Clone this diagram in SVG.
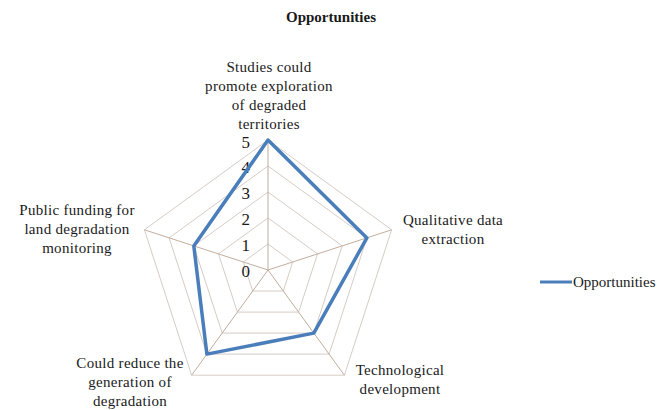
<svg xmlns="http://www.w3.org/2000/svg" width="664" height="410" viewBox="0 0 664 410">
<style>
.lbl{font-size:15px;text-anchor:middle;letter-spacing:0.3px}
.tick{font-size:17px;text-anchor:end}
.grid{fill:none;stroke:#d6ccc4;stroke-width:1}
.spoke{stroke:#c2ad9c;stroke-width:1}
.series{fill:none;stroke:#4a7ebb;stroke-width:3.5;stroke-linejoin:round}
</style>
<rect width="664" height="410" fill="#ffffff"/>
<g font-family="'Liberation Serif', 'Times New Roman', serif" fill="#1a1a1a">
<text x="331" y="22" font-size="15" font-weight="bold" text-anchor="middle">Opportunities</text>
</g>
<g id="grid">
<polygon class="grid" points="268,244 292.7,262 283.3,291 252.7,291 243.3,262"/>
<polygon class="grid" points="268,218 317.5,253.9 298.6,312.1 237.4,312.1 218.5,253.9"/>
<polygon class="grid" points="268,192 342.2,245.9 313.8,333.1 222.2,333.1 193.8,245.9"/>
<polygon class="grid" points="268,166 366.9,237.9 329.1,354.1 206.9,354.1 169.1,237.9"/>
<polygon class="grid" points="268,140 391.6,229.8 344.4,375.2 191.6,375.2 144.4,229.8"/>
</g>
<g id="connectors">
<line class="spoke" x1="268" y1="270" x2="268" y2="140"/>
<line class="spoke" x1="268" y1="270" x2="391.6" y2="229.8"/>
<line class="spoke" x1="268" y1="270" x2="344.4" y2="375.2"/>
<line class="spoke" x1="268" y1="270" x2="191.6" y2="375.2"/>
<line class="spoke" x1="268" y1="270" x2="144.4" y2="229.8"/>
</g>
<g id="ticks" font-family="'Liberation Serif', 'Times New Roman', serif" fill="#1a1a1a">
<text class="tick" x="250" y="277">0</text>
<text class="tick" x="250" y="251">1</text>
<text class="tick" x="250" y="225">2</text>
<text class="tick" x="250" y="199">3</text>
<text class="tick" x="250" y="173">4</text>
<text class="tick" x="250" y="148">5</text>
</g>
<g id="series-opportunities">
<polygon class="series" points="268,140 366.9,237.9 313.8,333.1 206.9,354.1 193.8,245.9"/>
</g>
<g id="node-studies" font-family="'Liberation Serif', 'Times New Roman', serif" fill="#1a1a1a">
<text class="lbl" x="269" y="72">Studies could</text>
<text class="lbl" x="269" y="91">promote exploration</text>
<text class="lbl" x="269" y="110">of degraded</text>
<text class="lbl" x="269" y="129">territories</text>
</g>
<g id="node-qualitative" font-family="'Liberation Serif', 'Times New Roman', serif" fill="#1a1a1a">
<text class="lbl" x="453" y="225">Qualitative data</text>
<text class="lbl" x="453" y="244">extraction</text>
</g>
<g id="node-technological" font-family="'Liberation Serif', 'Times New Roman', serif" fill="#1a1a1a">
<text class="lbl" x="400" y="375">Technological</text>
<text class="lbl" x="400" y="394">development</text>
</g>
<g id="node-could-reduce" font-family="'Liberation Serif', 'Times New Roman', serif" fill="#1a1a1a">
<text class="lbl" x="130" y="368">Could reduce the</text>
<text class="lbl" x="130" y="387">generation of</text>
<text class="lbl" x="130" y="406">degradation</text>
</g>
<g id="node-public-funding" font-family="'Liberation Serif', 'Times New Roman', serif" fill="#1a1a1a">
<text class="lbl" x="77" y="215">Public funding for</text>
<text class="lbl" x="77" y="234">land degradation</text>
<text class="lbl" x="77" y="253">monitoring</text>
</g>
<g id="legend" font-family="'Liberation Serif', 'Times New Roman', serif" fill="#1a1a1a">
<line x1="540" y1="282" x2="572" y2="282" stroke="#4a7ebb" stroke-width="3"/>
<text x="573" y="287" font-size="15">Opportunities</text>
</g>
</svg>
